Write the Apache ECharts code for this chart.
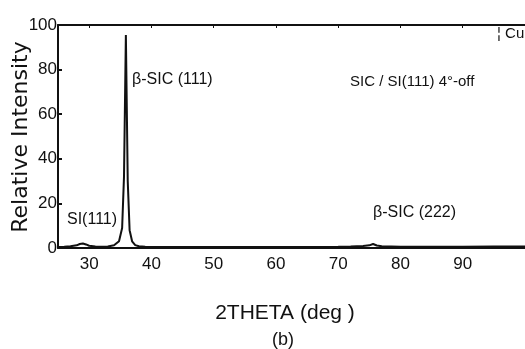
<!DOCTYPE html>
<html>
<head>
<meta charset="utf-8">
<style>
  html, body { margin: 0; padding: 0; background: #fff; }
  #chart { width: 525px; height: 349px; }
</style>
<script src="https://cdn.jsdelivr.net/npm/echarts@6/dist/echarts.min.js"></script>
</head>
<body>
<div id="chart"></div>
<script>
// 2theta (deg) positions
const theta = [25, 26, 27, 28, 28.5, 29, 29.5, 30, 31, 32, 33, 34, 34.8, 35.3, 35.6, 35.9, 36.2, 36.5, 36.9, 37.4, 38, 39, 40, 45, 50, 55, 60, 65, 70, 72, 74, 75, 75.6, 76.2, 77, 80, 85, 90, 95, 100];
// relative intensity at each position
const intensity = [0.5, 0.6, 0.8, 1.2, 1.8, 2.0, 1.6, 1.0, 0.7, 0.6, 0.7, 1.2, 3, 9, 32, 95.5, 30, 8, 3, 1.3, 0.8, 0.6, 0.5, 0.5, 0.5, 0.4, 0.5, 0.5, 0.6, 0.7, 0.9, 1.2, 1.8, 1.1, 0.8, 0.6, 0.6, 0.6, 0.7, 0.7];
const xTicks = [30, 40, 50, 60, 70, 80, 90];

const chart = echarts.init(document.getElementById("chart"));
const ink = "#111";
const font = "'Liberation Sans Narrow', 'Liberation Sans', sans-serif";

const option = {
  animation: false,
  backgroundColor: "#fff",
  grid: { left: 58, top: 25, bottom: 101, right: -28 },
  xAxis: [
    {
      type: "value",
      min: 25,
      max: 100,
      axisLine: { show: true, lineStyle: { color: ink, width: 2 } },
      axisTick: { show: false },
      splitLine: { show: false },
      axisLabel: {
        customValues: xTicks,
        color: ink,
        fontFamily: font,
        fontSize: 17,
        margin: 8
      }
    },
    {
      // top frame line
      type: "value",
      position: "top",
      min: 25,
      max: 100,
      axisLine: { show: true, onZero: false, lineStyle: { color: ink, width: 2 } },
      axisTick: { show: true, inside: true, length: 3, customValues: xTicks, lineStyle: { color: ink } },
      axisLabel: { show: false },
      splitLine: { show: false }
    }
  ],
  yAxis: {
    type: "value",
    min: 0,
    max: 100,
    interval: 20,
    axisLine: { show: true, lineStyle: { color: ink, width: 2 } },
    axisTick: { show: true, inside: true, length: 4, lineStyle: { color: ink, width: 2 } },
    splitLine: { show: false },
    axisLabel: {
      color: ink,
      fontFamily: font,
      fontSize: 17,
      margin: 1
    }
  },
  series: [
    {
      type: "line",
      xAxisIndex: 0,
      data: theta.map((t, i) => [t, intensity[i]]),
      showSymbol: false,
      lineStyle: { color: ink, width: 2 }
    }
  ],
  graphic: [
    {
      type: "text",
      x: 21, y: 137,
      rotation: Math.PI / 2,
      style: {
        text: "Relative Intensity",
        fill: ink,
        font: "22px 'DejaVu Sans', sans-serif",
        textAlign: "center",
        textVerticalAlign: "middle"
      }
    },
    {
      type: "text",
      x: 285, y: 313,
      style: {
        text: "2THETA (deg )",
        fill: ink,
        font: "21px " + font,
        textAlign: "center",
        textVerticalAlign: "middle"
      }
    },
    {
      type: "text",
      x: 283, y: 340,
      style: {
        text: "(b)",
        fill: ink,
        font: "18px " + font,
        textAlign: "center",
        textVerticalAlign: "middle"
      }
    },
    {
      type: "text",
      x: 132, y: 80,
      style: {
        text: "β-SIC (111)",
        fill: ink,
        font: "16px " + font,
        textAlign: "left",
        textVerticalAlign: "middle"
      }
    },
    {
      type: "text",
      x: 350, y: 82,
      style: {
        text: "SIC / SI(111) 4°-off",
        fill: ink,
        font: "15px " + font,
        textAlign: "left",
        textVerticalAlign: "middle"
      }
    },
    {
      type: "text",
      x: 373, y: 213,
      style: {
        text: "β-SIC (222)",
        fill: ink,
        font: "16px " + font,
        textAlign: "left",
        textVerticalAlign: "middle"
      }
    },
    {
      type: "text",
      x: 67, y: 220,
      style: {
        text: "SI(111)",
        fill: ink,
        font: "16px " + font,
        textAlign: "left",
        textVerticalAlign: "middle"
      }
    },
    {
      type: "text",
      x: 497, y: 34,
      style: {
        text: "¦ Cu",
        fill: ink,
        font: "15px " + font,
        textAlign: "left",
        textVerticalAlign: "middle"
      }
    }
  ]
};

chart.setOption(option);
</script>
</body>
</html>
